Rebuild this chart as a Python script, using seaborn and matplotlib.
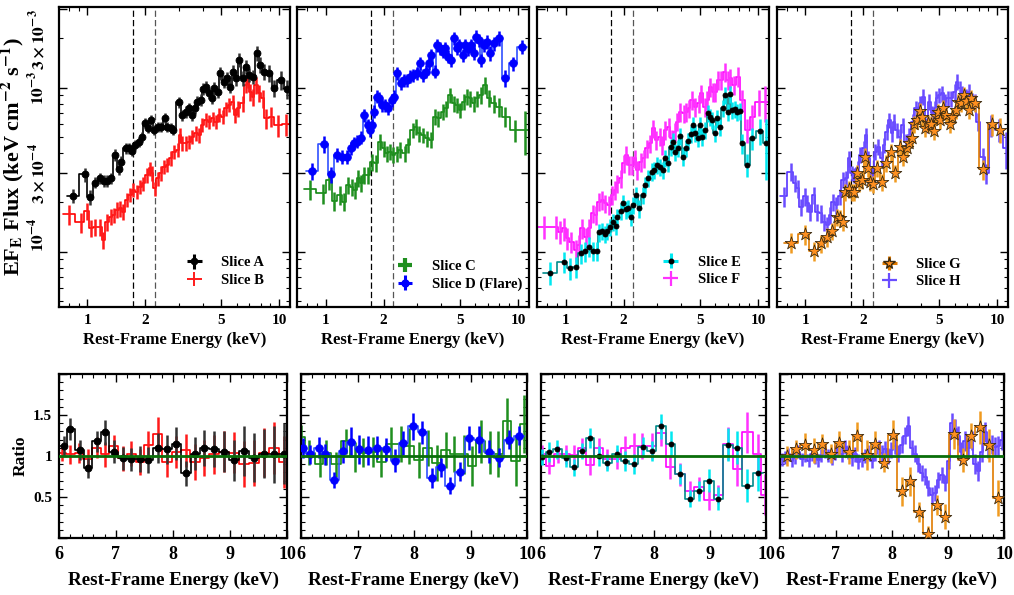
import numpy as np
import matplotlib
matplotlib.use("Agg")
import matplotlib.pyplot as plt
import seaborn as sns
from matplotlib.ticker import FixedLocator, FixedFormatter, NullFormatter, LogLocator, MultipleLocator

# ------------------------------------------------------------------ data
# Top panels: rest-frame energy (keV), EF_E flux (1e-4 keV cm^-2 s^-1), fractional 1-sigma error
energy_a = [0.84, 0.97, 1.03, 1.10, 1.16, 1.22, 1.27, 1.32, 1.385, 1.46,
            1.50, 1.58, 1.65, 1.71, 1.78, 1.86, 1.93, 1.99, 2.08, 2.15,
            2.23, 2.32, 2.41, 2.53, 2.61, 2.72, 2.81, 3.01, 3.13, 3.26,
            3.39, 3.49, 3.63, 3.75, 3.90, 4.03, 4.15, 4.32, 4.44, 4.59,
            4.77, 4.93, 5.13, 5.34, 5.57, 5.72, 5.96, 6.20, 6.46, 6.72,
            6.99, 7.28, 7.67, 7.99, 8.38, 8.90, 9.38, 10.24, 11.01]
flux_a = [2.19, 2.96, 2.15, 2.64, 2.80, 2.71, 2.71, 2.80, 3.89, 3.18,
          3.54, 4.27, 4.27, 4.13, 4.47, 4.69, 5.03, 6.06, 5.65, 6.35,
          5.52, 5.78, 5.78, 6.50, 5.78, 5.65, 5.52, 8.14, 6.81, 7.14,
          7.48, 6.81, 7.48, 8.21, 8.41, 9.81, 10.14, 9.23, 8.61, 9.91,
          9.45, 12.23, 10.88, 11.40, 10.14, 12.52, 11.40, 14.75, 11.40, 13.43,
          11.95, 11.67, 16.19, 13.75, 12.52, 12.23, 9.91, 11.14, 9.81]
err_a = [0.10, 0.10, 0.10, 0.08, 0.08, 0.08, 0.08, 0.08, 0.08, 0.08,
         0.08, 0.08, 0.08, 0.07, 0.07, 0.07, 0.07, 0.07, 0.07, 0.07,
         0.07, 0.07, 0.07, 0.07, 0.07, 0.07, 0.07, 0.08, 0.08, 0.08,
         0.08, 0.08, 0.08, 0.08, 0.08, 0.08, 0.08, 0.08, 0.08, 0.09,
         0.09, 0.09, 0.09, 0.09, 0.09, 0.09, 0.10, 0.10, 0.10, 0.10,
         0.10, 0.10, 0.10, 0.11, 0.11, 0.12, 0.12, 0.13, 0.13]

energy_b = [0.80, 0.93, 1.00, 1.04, 1.10, 1.16, 1.21, 1.27, 1.32, 1.37,
            1.43, 1.48, 1.54, 1.60, 1.67, 1.73, 1.81, 1.88, 1.96, 2.05,
            2.12, 2.18, 2.24, 2.32, 2.41, 2.51, 2.61, 2.72, 2.83, 2.95,
            3.04, 3.13, 3.26, 3.39, 3.53, 3.68, 3.83, 3.98, 4.15, 4.32,
            4.50, 4.68, 4.87, 5.07, 5.28, 5.50, 5.72, 5.89, 6.12, 6.46,
            6.72, 6.86, 7.08, 7.28, 7.58, 7.89, 8.21, 8.55, 9.08, 9.84,
            10.88]
flux_b = [1.69, 1.52, 1.77, 1.39, 1.42, 1.42, 1.18, 1.52, 1.63, 1.67,
          1.80, 1.84, 1.75, 2.07, 2.22, 2.38, 2.32, 2.49, 2.61, 2.93,
          3.22, 3.01, 2.43, 2.80, 3.01, 3.30, 3.38, 3.71, 4.07, 4.17,
          5.14, 4.58, 4.58, 4.69, 5.03, 5.27, 5.14, 5.92, 6.35, 6.21,
          6.50, 6.21, 6.81, 6.65, 7.48, 7.84, 8.21, 6.81, 7.48, 8.02,
          10.38, 11.14, 9.45, 8.81, 10.38, 9.23, 8.61, 6.50, 6.65, 5.92,
          5.97]
err_b = [0.14, 0.14, 0.12, 0.12, 0.12, 0.12, 0.12, 0.12, 0.11, 0.11,
         0.11, 0.11, 0.11, 0.10, 0.10, 0.10, 0.10, 0.10, 0.10, 0.10,
         0.10, 0.10, 0.10, 0.10, 0.10, 0.10, 0.10, 0.10, 0.10, 0.10,
         0.10, 0.10, 0.10, 0.10, 0.10, 0.10, 0.10, 0.10, 0.10, 0.10,
         0.10, 0.10, 0.10, 0.10, 0.10, 0.10, 0.10, 0.11, 0.11, 0.11,
         0.11, 0.11, 0.12, 0.12, 0.12, 0.12, 0.13, 0.14, 0.14, 0.15,
         0.15]

energy_c = [0.83, 0.965, 1.04, 1.11, 1.19, 1.24, 1.30, 1.37, 1.42, 1.48,
            1.53, 1.59, 1.67, 1.74, 1.82, 1.92, 2.00, 2.08, 2.16, 2.25,
            2.34, 2.44, 2.57, 2.67, 2.83, 2.94, 3.06, 3.19, 3.36, 3.54,
            3.68, 3.86, 4.05, 4.22, 4.44, 4.62, 4.81, 5.01, 5.21, 5.43,
            5.65, 5.88, 6.12, 6.44, 6.76, 7.04, 7.47, 7.93, 8.52, 9.69,
            10.83]
flux_c = [2.40, 2.27, 2.74, 2.04, 2.22, 2.02, 2.55, 2.49, 2.38, 2.80,
          2.61, 2.93, 2.93, 3.54, 3.46, 4.69, 4.27, 3.98, 4.07, 3.89,
          3.98, 4.17, 3.98, 4.47, 5.52, 5.78, 5.27, 5.14, 4.91, 4.80,
          6.65, 6.50, 7.14, 7.48, 9.02, 8.02, 7.84, 7.31, 8.21, 8.81,
          8.61, 8.02, 8.61, 9.02, 10.38, 8.61, 8.02, 7.66, 6.65, 5.52,
          5.52]
err_c = [0.14, 0.14, 0.13, 0.13, 0.13, 0.13, 0.12, 0.12, 0.12, 0.12,
         0.12, 0.12, 0.12, 0.12, 0.12, 0.11, 0.11, 0.11, 0.11, 0.11,
         0.11, 0.11, 0.11, 0.11, 0.11, 0.11, 0.11, 0.11, 0.11, 0.11,
         0.11, 0.11, 0.11, 0.11, 0.11, 0.11, 0.11, 0.11, 0.11, 0.11,
         0.11, 0.11, 0.11, 0.12, 0.12, 0.12, 0.13, 0.13, 0.14, 0.15,
         0.30]

energy_d = [0.85, 0.98, 1.07, 1.15, 1.21, 1.29, 1.35, 1.41, 1.46, 1.53,
            1.59, 1.66, 1.70, 1.74, 1.79, 1.84, 1.90, 1.96, 2.04, 2.12,
            2.21, 2.28, 2.36, 2.45, 2.54, 2.64, 2.75, 2.86, 2.98, 3.08,
            3.20, 3.33, 3.43, 3.54, 3.68, 3.79, 3.94, 4.05, 4.18, 4.35,
            4.50, 4.62, 4.81, 4.95, 5.15, 5.32, 5.49, 5.72, 5.88, 6.04,
            6.24, 6.44, 6.63, 6.90, 7.18, 7.47, 7.93, 8.52, 9.38, 10.49]
flux_d = [3.10, 4.51, 2.96, 3.89, 3.80, 3.80, 4.27, 4.58, 4.69, 4.96,
          6.81, 5.92, 5.52, 5.92, 7.14, 8.81, 8.61, 7.84, 7.84, 7.48,
          8.41, 8.81, 12.23, 10.63, 11.14, 11.14, 11.67, 11.95, 12.23, 14.06,
          11.95, 12.52, 14.06, 15.83, 12.52, 18.2, 17.4, 16.6, 17.4, 15.45,
          14.75, 20.0, 17.4, 18.2, 15.83, 18.2, 17.1, 18.2, 16.19, 20.47,
          19.53, 14.75, 18.2, 19.1, 16.19, 18.6, 20.0, 11.4, 14.06, 17.8]
err_d = [0.12, 0.12, 0.11, 0.10, 0.10, 0.10, 0.09, 0.09, 0.09, 0.09,
         0.09, 0.09, 0.09, 0.09, 0.09, 0.09, 0.09, 0.09, 0.09, 0.09,
         0.09, 0.09, 0.09, 0.09, 0.09, 0.09, 0.09, 0.09, 0.09, 0.09,
         0.09, 0.09, 0.09, 0.09, 0.09, 0.09, 0.09, 0.09, 0.09, 0.09,
         0.09, 0.09, 0.09, 0.09, 0.09, 0.09, 0.09, 0.09, 0.09, 0.09,
         0.09, 0.09, 0.09, 0.10, 0.10, 0.10, 0.10, 0.12, 0.10, 0.10]

energy_e = [0.83, 0.98, 1.05, 1.13, 1.20, 1.26, 1.32, 1.39, 1.45, 1.49,
            1.54, 1.60, 1.65, 1.71, 1.76, 1.82, 1.86, 1.93, 1.99, 2.05,
            2.12, 2.18, 2.25, 2.33, 2.42, 2.53, 2.60, 2.69, 2.80, 2.89,
            2.98, 3.08, 3.20, 3.30, 3.41, 3.51, 3.61, 3.72, 3.85, 3.95,
            4.06, 4.20, 4.33, 4.46, 4.58, 4.73, 4.88, 5.02, 5.12, 5.33,
            5.48, 5.66, 5.77, 5.96, 6.13, 6.32, 6.56, 6.77, 6.96, 7.13,
            7.33, 7.57, 7.78, 8.03, 8.26, 8.77, 9.31, 10.28, 11.0]
flux_e = [0.745, 0.869, 0.791, 0.81, 0.977, 1.009, 1.073, 1.009, 1.009, 1.312,
          1.337, 1.282, 1.343, 1.42, 1.524, 1.434, 1.634, 1.77, 1.972, 1.81,
          1.853, 1.634, 1.926, 2.22, 1.835, 2.22, 2.55, 2.80, 3.08, 3.15,
          3.38, 3.30, 3.15, 3.71, 3.46, 4.33, 4.69, 4.07, 4.27, 5.05,
          3.80, 4.30, 4.73, 5.19, 5.92, 5.27, 4.91, 5.92, 5.03, 5.52,
          6.97, 6.65, 6.35, 5.27, 6.50, 5.78, 7.55, 9.02, 7.14, 9.10,
          7.31, 7.41, 7.14, 7.21, 4.58, 3.38, 4.91, 5.45, 4.58]
err_e = [0.16, 0.15, 0.15, 0.15, 0.14, 0.14, 0.14, 0.13, 0.13, 0.13,
         0.12, 0.12, 0.12, 0.12, 0.12, 0.12, 0.12, 0.12, 0.12, 0.12,
         0.12, 0.12, 0.12, 0.12, 0.12, 0.12, 0.12, 0.12, 0.12, 0.12,
         0.12, 0.12, 0.12, 0.12, 0.12, 0.12, 0.12, 0.12, 0.12, 0.12,
         0.12, 0.12, 0.12, 0.12, 0.12, 0.12, 0.12, 0.12, 0.12, 0.12,
         0.12, 0.12, 0.12, 0.12, 0.12, 0.12, 0.12, 0.12, 0.12, 0.12,
         0.12, 0.12, 0.12, 0.12, 0.14, 0.16, 0.15, 0.18, 0.40]

energy_f = [0.77, 0.89, 0.94, 0.98, 1.02, 1.07, 1.13, 1.17, 1.22, 1.27,
            1.33, 1.39, 1.43, 1.49, 1.55, 1.61, 1.68, 1.75, 1.80, 1.86,
            1.93, 2.01, 2.07, 2.13, 2.22, 2.29, 2.36, 2.45, 2.55, 2.65,
            2.76, 2.84, 2.96, 3.08, 3.18, 3.30, 3.44, 3.55, 3.69, 3.80,
            3.95, 4.11, 4.23, 4.37, 4.54, 4.73, 4.92, 5.08, 5.29, 5.44,
            5.66, 5.82, 6.01, 6.20, 6.45, 6.71, 6.99, 7.18, 7.48, 7.87,
            8.26, 8.77, 9.31, 10.08, 10.92]
flux_f = [1.42, 1.42, 1.32, 1.39, 1.21, 1.15, 1.02, 1.10, 1.39, 1.23,
          1.39, 1.71, 1.67, 2.02, 2.07, 1.97, 1.93, 2.22, 2.38, 2.61,
          2.80, 3.46, 3.89, 3.38, 3.38, 3.71, 3.15, 3.54, 3.71, 4.27,
          4.58, 5.65, 4.80, 5.03, 4.47, 5.52, 5.78, 4.91, 5.40, 6.21,
          7.14, 6.97, 7.14, 7.48, 8.41, 7.66, 8.02, 9.23, 7.66, 8.41,
          10.14, 9.45, 9.45, 11.14, 11.14, 12.52, 11.14, 11.50, 10.38, 11.67,
          8.41, 5.52, 6.65, 8.21, 8.21]
err_f = [0.16, 0.16, 0.16, 0.16, 0.15, 0.15, 0.15, 0.15, 0.14, 0.14,
         0.14, 0.13, 0.13, 0.13, 0.13, 0.13, 0.13, 0.13, 0.13, 0.13,
         0.13, 0.13, 0.13, 0.13, 0.13, 0.13, 0.13, 0.13, 0.13, 0.13,
         0.13, 0.13, 0.13, 0.13, 0.13, 0.13, 0.13, 0.13, 0.13, 0.13,
         0.13, 0.13, 0.13, 0.13, 0.13, 0.13, 0.13, 0.13, 0.13, 0.13,
         0.13, 0.13, 0.13, 0.13, 0.13, 0.13, 0.13, 0.13, 0.13, 0.14,
         0.15, 0.17, 0.17, 0.18, 0.25]

energy_g = [0.84, 0.99, 1.105, 1.21, 1.30, 1.38, 1.46, 1.51, 1.56, 1.61,
            1.68, 1.75, 1.80, 1.86, 1.91, 1.98, 2.05, 2.11, 2.18, 2.26,
            2.37, 2.52, 2.63, 2.78, 2.94, 3.11, 3.24, 3.37, 3.48, 3.59,
            3.68, 3.80, 3.98, 4.05, 4.20, 4.37, 4.54, 4.67, 4.79, 4.92,
            5.06, 5.22, 5.44, 5.66, 5.84, 6.08, 6.25, 6.45, 6.69, 6.91,
            7.10, 7.33, 7.63, 8.43, 9.42, 10.37]
flux_g = [1.134, 1.282, 1.009, 1.124, 1.234, 1.337, 1.62, 1.597, 1.524, 2.32,
          2.40, 2.30, 2.32, 3.01, 2.61, 2.74, 3.80, 3.22, 2.67, 2.58,
          3.22, 2.67, 3.46, 4.07, 3.03, 4.37, 3.80, 4.30, 4.58, 4.91,
          5.97, 6.35, 7.21, 6.65, 5.65, 6.06, 5.97, 5.45, 6.71, 7.14,
          6.35, 7.48, 6.81, 5.97, 6.65, 7.31, 8.14, 8.10, 9.02, 8.29,
          7.31, 8.61, 8.02, 3.19, 5.97, 5.55]
err_g = [0.14, 0.14, 0.13, 0.13, 0.13, 0.12, 0.12, 0.12, 0.12, 0.12,
         0.12, 0.12, 0.12, 0.12, 0.12, 0.12, 0.12, 0.12, 0.12, 0.12,
         0.12, 0.12, 0.12, 0.12, 0.12, 0.12, 0.12, 0.12, 0.12, 0.12,
         0.12, 0.12, 0.12, 0.12, 0.12, 0.12, 0.12, 0.12, 0.12, 0.12,
         0.12, 0.12, 0.12, 0.12, 0.12, 0.12, 0.12, 0.12, 0.12, 0.12,
         0.12, 0.12, 0.12, 0.14, 0.15, 0.17]

energy_h = [0.77, 0.84, 0.88, 0.91, 0.95, 0.99, 1.02, 1.06, 1.105, 1.15,
            1.20, 1.245, 1.30, 1.34, 1.39, 1.45, 1.51, 1.57, 1.63, 1.685,
            1.75, 1.80, 1.87, 1.93, 2.01, 2.07, 2.13, 2.22, 2.31, 2.40,
            2.50, 2.57, 2.65, 2.74, 2.82, 2.90, 2.99, 3.11, 3.21, 3.34,
            3.48, 3.62, 3.77, 3.88, 3.98, 4.11, 4.28, 4.42, 4.60, 4.73,
            4.82, 4.98, 5.18, 5.33, 5.55, 5.77, 6.01, 6.20, 6.37, 6.58,
            6.85, 7.13, 7.36, 7.63, 7.94, 8.43, 8.77, 9.31, 10.28, 11.13]
flux_h = [2.17, 3.08, 2.61, 2.43, 1.88, 2.17, 1.97, 1.75, 2.22, 1.75,
          1.71, 1.52, 1.455, 1.67, 2.02, 1.93, 2.17, 2.74, 2.80, 3.71,
          3.01, 2.93, 3.22, 3.89, 4.27, 5.14, 3.71, 2.93, 4.07, 4.37,
          3.71, 4.47, 5.40, 6.35, 5.27, 6.21, 5.52, 5.03, 5.92, 4.69,
          5.14, 6.21, 7.48, 6.97, 8.02, 8.81, 5.92, 8.21, 6.97, 7.48,
          8.61, 9.02, 9.23, 8.21, 8.61, 8.61, 9.45, 10.88, 9.91, 9.23,
          8.81, 9.45, 8.41, 8.14, 6.21, 3.80, 3.01, 5.92, 5.52, 4.27]
err_h = [0.14, 0.12, 0.12, 0.12, 0.12, 0.12, 0.12, 0.12, 0.12, 0.12,
         0.12, 0.12, 0.12, 0.12, 0.12, 0.12, 0.11, 0.11, 0.11, 0.11,
         0.11, 0.11, 0.11, 0.11, 0.11, 0.11, 0.11, 0.11, 0.11, 0.11,
         0.11, 0.11, 0.11, 0.11, 0.11, 0.11, 0.11, 0.11, 0.11, 0.11,
         0.11, 0.11, 0.11, 0.11, 0.11, 0.11, 0.11, 0.11, 0.11, 0.11,
         0.11, 0.11, 0.11, 0.11, 0.11, 0.11, 0.11, 0.11, 0.11, 0.11,
         0.11, 0.11, 0.11, 0.12, 0.12, 0.13, 0.14, 0.15, 0.16, 0.25]

# Bottom panels: data/model ratio in the 6-10 keV band
r_energy_a = [6.08, 6.20, 6.36, 6.51, 6.66, 6.81, 6.96, 7.12, 7.27, 7.42, 7.57, 7.73, 7.89,
              8.06, 8.23, 8.39, 8.55, 8.72, 8.89, 9.07, 9.25, 9.42, 9.59, 9.77, 9.94]
ratio_a = [1.12, 1.33, 1.07, 0.85, 1.18, 1.29, 1.05, 0.97, 0.96, 0.96, 0.95, 1.10, 1.08,
           1.15, 0.79, 1.03, 1.10, 1.08, 1.05, 0.95, 1.06, 0.98, 1.03, 1.02, 1.03]
rerr_a = [0.12, 0.13, 0.12, 0.12, 0.13, 0.15, 0.14, 0.14, 0.14, 0.16, 0.16, 0.18, 0.18,
          0.20, 0.15, 0.20, 0.22, 0.22, 0.25, 0.25, 0.30, 0.30, 0.30, 0.35, 0.37]

r_energy_b = [6.05, 6.20, 6.35, 6.50, 6.66, 6.81, 6.96, 7.12, 7.27, 7.42, 7.57, 7.73, 7.89,
              8.06, 8.22, 8.39, 8.55, 8.72, 8.89, 9.07, 9.25, 9.42, 9.59, 9.77, 9.94]
ratio_b = [1.04, 1.02, 1.04, 0.96, 1.10, 1.02, 1.12, 0.97, 1.03, 0.93, 1.14, 1.27, 0.93,
           1.05, 1.07, 0.93, 0.98, 1.02, 1.05, 1.04, 0.90, 0.92, 1.04, 1.10, 0.93]
rerr_b = [0.10, 0.12, 0.12, 0.12, 0.13, 0.15, 0.14, 0.15, 0.15, 0.16, 0.17, 0.20, 0.18,
          0.20, 0.20, 0.22, 0.22, 0.24, 0.25, 0.25, 0.28, 0.28, 0.30, 0.32, 0.32]

r_energy_c = [6.00, 6.15, 6.33, 6.45, 6.62, 6.79, 6.95, 7.10, 7.28, 7.42, 7.60, 7.77, 7.92,
              8.08, 8.25, 8.40, 8.56, 8.71, 8.88, 9.03, 9.18, 9.34, 9.49, 9.65, 9.80, 9.95]
ratio_c = [1.23, 1.04, 0.90, 1.04, 0.90, 1.18, 0.99, 1.04, 1.05, 0.93, 1.15, 1.15, 1.12,
           0.95, 1.10, 0.91, 1.07, 1.03, 1.02, 0.88, 1.18, 1.04, 1.02, 1.43, 0.94, 1.39]
rerr_c = [0.15, 0.15, 0.15, 0.15, 0.15, 0.15, 0.18, 0.18, 0.18, 0.18, 0.20, 0.22, 0.22,
          0.22, 0.22, 0.22, 0.22, 0.22, 0.24, 0.24, 0.26, 0.26, 0.28, 0.28, 0.30, 0.35]

r_energy_d = [6.03, 6.16, 6.31, 6.43, 6.59, 6.74, 6.89, 7.03, 7.19, 7.35, 7.51, 7.67, 7.81,
              7.98, 8.15, 8.31, 8.47, 8.64, 8.81, 8.98, 9.15, 9.32, 9.50, 9.68, 9.86]
ratio_d = [1.10, 1.02, 1.10, 1.02, 0.71, 1.06, 1.17, 1.08, 1.07, 1.10, 1.08, 0.94, 1.16,
           1.36, 1.29, 0.73, 0.86, 0.64, 0.81, 1.22, 1.20, 1.05, 0.98, 1.20, 1.25]
rerr_d = [0.12, 0.12, 0.13, 0.13, 0.10, 0.14, 0.18, 0.18, 0.18, 0.14, 0.14, 0.14, 0.15,
          0.16, 0.14, 0.12, 0.12, 0.10, 0.12, 0.15, 0.16, 0.14, 0.12, 0.12, 0.12]

r_energy_e = [6.01, 6.15, 6.29, 6.44, 6.58, 6.72, 6.87, 7.03, 7.18, 7.35, 7.49, 7.65, 7.81,
              7.97, 8.13, 8.31, 8.47, 8.64, 8.80, 8.99, 9.15, 9.32, 9.49, 9.67, 9.85]
ratio_e = [0.99, 1.05, 1.08, 0.97, 0.86, 1.06, 1.22, 1.00, 0.92, 1.03, 0.94, 0.90, 1.11,
           1.06, 1.36, 1.15, 0.78, 0.48, 0.57, 0.70, 0.48, 1.14, 1.10, 0.64, 0.79]
rerr_e = [0.10, 0.12, 0.12, 0.10, 0.10, 0.10, 0.12, 0.12, 0.10, 0.10, 0.12, 0.12, 0.12,
          0.12, 0.15, 0.15, 0.12, 0.10, 0.12, 0.14, 0.14, 0.20, 0.20, 0.20, 0.22]

r_energy_f = [6.02, 6.15, 6.30, 6.44, 6.58, 6.72, 6.87, 7.03, 7.18, 7.35, 7.50, 7.65, 7.80,
              7.97, 8.13, 8.30, 8.47, 8.64, 8.80, 8.99, 9.15, 9.32, 9.49, 9.67, 9.85, 9.98]
ratio_f = [1.02, 0.88, 1.02, 1.02, 1.01, 1.10, 0.89, 1.10, 0.96, 0.96, 1.10, 1.12, 1.12,
           1.12, 1.28, 0.86, 0.78, 0.57, 0.62, 0.46, 0.53, 1.15, 0.84, 1.29, 1.02, 0.53]
rerr_f = [0.12, 0.10, 0.10, 0.12, 0.12, 0.12, 0.12, 0.12, 0.12, 0.12, 0.14, 0.16, 0.16,
          0.16, 0.16, 0.14, 0.14, 0.12, 0.12, 0.12, 0.12, 0.20, 0.20, 0.25, 0.25, 0.25]

r_energy_g = [6.13, 6.29, 6.44, 6.60, 6.75, 6.91, 7.06, 7.23, 7.38, 7.55, 7.70, 7.86, 8.01,
              8.17, 8.32, 8.48, 8.64, 8.80, 8.95, 9.10, 9.26, 9.41, 9.57, 9.73, 9.89]
ratio_g = [1.00, 1.08, 1.13, 1.07, 1.15, 1.03, 1.16, 1.05, 1.24, 1.01, 1.15, 0.92, 1.26,
           0.57, 0.69, 0.32, 0.05, 0.40, 0.26, 1.27, 0.95, 1.25, 1.35, 1.13, 0.49]
rerr_g = [0.12, 0.12, 0.15, 0.15, 0.12, 0.12, 0.15, 0.15, 0.18, 0.18, 0.15, 0.12, 0.18,
          0.18, 0.18, 0.12, 0.10, 0.12, 0.15, 0.18, 0.15, 0.15, 0.20, 0.20, 0.22]

r_energy_h = [6.03, 6.09, 6.15, 6.21, 6.27, 6.33, 6.39, 6.45, 6.51, 6.57,
              6.625, 6.685, 6.74, 6.80, 6.86, 6.92, 6.98, 7.04, 7.10, 7.16,
              7.22, 7.28, 7.34, 7.40, 7.46, 7.52, 7.58, 7.64, 7.70, 7.76,
              7.82, 7.875, 7.93, 7.99, 8.05, 8.11, 8.17, 8.23, 8.29, 8.35,
              8.41, 8.47, 8.53, 8.59, 8.65, 8.71, 8.77, 8.83, 8.89, 8.95,
              9.01, 9.07, 9.125, 9.18, 9.24, 9.30, 9.36, 9.42, 9.48, 9.54,
              9.60, 9.66, 9.72, 9.78, 9.84, 9.90, 9.96]
ratio_h = [0.96, 0.98, 1.02, 0.94, 0.98, 1.05, 0.96, 1.01, 0.94, 1.02,
           0.98, 0.95, 1.01, 1.06, 1.01, 0.97, 1.04, 1.08, 1.02, 1.11,
           1.05, 0.97, 1.02, 0.93, 0.96, 1.00, 1.04, 0.94, 1.03, 1.10,
           1.04, 1.08, 1.00, 1.07, 1.12, 1.03, 1.14, 1.25, 1.37, 1.10,
           1.03, 0.90, 0.79, 0.75, 0.61, 0.52, 0.55, 0.71, 0.77, 0.67,
           0.94, 1.40, 1.33, 1.25, 1.05, 1.18, 1.10, 1.19, 0.90, 0.82,
           1.05, 1.29, 1.10, 1.14, 1.11, 1.12, 1.19]
rerr_h = [0.08, 0.08, 0.08, 0.08, 0.08, 0.08, 0.08, 0.08, 0.08, 0.08,
          0.08, 0.08, 0.08, 0.08, 0.08, 0.08, 0.09, 0.09, 0.09, 0.09,
          0.09, 0.09, 0.09, 0.09, 0.09, 0.09, 0.09, 0.09, 0.09, 0.09,
          0.10, 0.10, 0.10, 0.10, 0.10, 0.10, 0.10, 0.10, 0.12, 0.10,
          0.10, 0.10, 0.10, 0.10, 0.10, 0.10, 0.10, 0.10, 0.10, 0.10,
          0.10, 0.12, 0.12, 0.12, 0.12, 0.12, 0.12, 0.12, 0.12, 0.12,
          0.12, 0.12, 0.12, 0.12, 0.12, 0.12, 0.12]

slice_labels = ["Slice A", "Slice B", "Slice C", "Slice D (Flare)",
                "Slice E", "Slice F", "Slice G", "Slice H"]
feature_lines = [1.72, 2.24]          # keV, dashed markers in the top panels
flux_scale = 1e-4

# ------------------------------------------------------------------ style
sns.set_theme(style="ticks")
plt.rcParams["font.family"] = ["Liberation Serif", "DejaVu Serif"]
plt.rcParams["font.weight"] = "bold"
plt.rcParams["axes.labelweight"] = "bold"
plt.rcParams["mathtext.fontset"] = "stix"
plt.rcParams["axes.linewidth"] = 1.6
plt.rcParams["axes.edgecolor"] = "black"
plt.rcParams["xtick.color"] = "black"
plt.rcParams["ytick.color"] = "black"
plt.rcParams["text.color"] = "black"
plt.rcParams["axes.labelcolor"] = "black"

# per-series style: (line colour, errorbar colour, marker, marker size, marker face, marker edge)
styles = {
    "A": ("black", "#333333", "o", 5.0, "black", "black"),
    "B": ("#ff0000", "#ff1a1a", None, 0, None, None),
    "C": ("#118811", "#1f8f1f", None, 0, None, None),
    "D": ("#3050ff", "#0000ff", "o", 5.5, "#0000ff", "#0000ff"),
    "E": ("#008b8b", "#00e8f0", "o", 3.6, "black", "black"),
    "F": ("#ff00ff", "#ff33ff", None, 0, None, None),
    "G": ("#e07b00", "#f09a20", "*", 9.5, "#ff9020", "#3a2a10"),
    "H": ("#5533ff", "#6a4dff", None, 0, None, None),
}
legend_lw = {"A": 2.2, "B": 1.4, "C": 3.0, "D": 2.2, "E": 2.2, "F": 1.6, "G": 2.2, "H": 1.6}

W, H = 1014, 595
fig = plt.figure(figsize=(W / 100, H / 100), dpi=100)

top_px = [(59, 290), (297, 529), (537, 769), (777, 1008)]
bot_px = [(59, 287), (301, 527), (541, 766), (780, 1004)]
top_axes = [fig.add_axes([l / W, (H - 307) / H, (r - l) / W, 300 / H]) for l, r in top_px]
bot_axes = [fig.add_axes([l / W, (H - 538) / H, (r - l) / W, 164 / H]) for l, r in bot_px]


def bin_edges(x, log):
    x = np.asarray(x, float)
    if log:
        mids = np.sqrt(x[:-1] * x[1:])
        left = np.r_[x[0] ** 2 / mids[0], mids]
        right = np.r_[mids, x[-1] ** 2 / mids[-1]]
    else:
        mids = 0.5 * (x[:-1] + x[1:])
        left = np.r_[2 * x[0] - mids[0], mids]
        right = np.r_[mids, 2 * x[-1] - mids[-1]]
    return left, right


def draw_series(ax, x, y, frac_or_abs, key, log, scale=1.0, relative=True, z=2, lw=1.2, elw=1.8):
    lc, ec, mk, ms, mfc, mec = styles[key]
    x = np.asarray(x, float)
    y = np.asarray(y, float) * scale
    e = np.asarray(frac_or_abs, float)
    err = e * y if relative else e
    left, right = bin_edges(x, log)
    xs = np.column_stack([left, right]).ravel()
    ys = np.repeat(y, 2)
    sns.lineplot(x=xs, y=ys, estimator=None, sort=False, color=lc, linewidth=lw,
                 ax=ax, zorder=z, legend=False)
    ax.errorbar(x, y, yerr=err, fmt="none", ecolor=ec, elinewidth=elw, capsize=0, zorder=z + 0.1)
    if mk is not None:
        sns.scatterplot(x=x, y=y, marker=mk, s=ms ** 2, color=mfc, edgecolor=mec,
                        linewidth=0.6, ax=ax, zorder=z + 0.2, legend=False)


def legend_handle(ax, key, label):
    lc, ec, mk, ms, mfc, mec = styles[key]
    fmt = mk if mk is not None else "none"
    h = ax.errorbar([np.nan], [np.nan], xerr=[1.0], yerr=[1.0], fmt=fmt,
                    color=ec if mk is None else mfc,
                    ecolor=ec if key not in ("A", "G") else lc, elinewidth=legend_lw[key],
                    markersize=ms * 0.9, markerfacecolor=mfc, markeredgecolor=mec, label=label)
    return h


top_series = [
    [(energy_b, flux_b, err_b, "B"), (energy_a, flux_a, err_a, "A")],
    [(energy_c, flux_c, err_c, "C"), (energy_d, flux_d, err_d, "D")],
    [(energy_f, flux_f, err_f, "F"), (energy_e, flux_e, err_e, "E")],
    [(energy_h, flux_h, err_h, "H"), (energy_g, flux_g, err_g, "G")],
]
legend_keys = [("A", "B"), ("C", "D"), ("E", "F"), ("G", "H")]
legend_anchor = [(0.52, 0.118), (0.40, 0.105), (0.51, 0.12), (0.42, 0.113)]
label_of = dict(zip("ABCDEFGH", slice_labels))

for i, ax in enumerate(top_axes):
    ax.set_xscale("log")
    ax.set_yscale("log")
    for j, (x, y, e, k) in enumerate(top_series[i]):
        draw_series(ax, x, y, e, k, log=True, scale=flux_scale, z=2 + j)
    for k, xv in enumerate(feature_lines):
        ax.axvline(xv, color="black" if k == 0 else "#555555", ls=(0, (5, 2.5)), lw=0.9, zorder=1)
    ax.set_xlim(0.71, 11.4)
    ax.set_ylim(4.6e-5, 3.1e-3)
    ax.xaxis.set_major_locator(FixedLocator([1, 2, 5, 10]))
    ax.xaxis.set_major_formatter(FixedFormatter(["1", "2", "5", "10"]))
    ax.xaxis.set_minor_locator(LogLocator(base=10, subs=np.arange(2, 10)))
    ax.xaxis.set_minor_formatter(NullFormatter())
    ax.yaxis.set_major_locator(FixedLocator([1e-4, 3e-4, 1e-3, 3e-3]))
    ax.yaxis.set_minor_locator(LogLocator(base=10, subs=[2, 4, 5, 6, 7, 8, 9]))
    ax.yaxis.set_minor_formatter(NullFormatter())
    if i == 0:
        ax.yaxis.set_major_formatter(FixedFormatter(
            [r"$10^{-4}$", r"$3\times10^{-4}$", r"$10^{-3}$", r"$3\times10^{-3}$"]))
        for t in ax.get_yticklabels():
            t.set_rotation(90)
            t.set_va("center")
        ax.set_ylabel(r"EF$_\mathbf{E}$ Flux (keV cm$^\mathbf{-2}$ s$^\mathbf{-1}$)",
                      fontsize=16, fontweight="bold", labelpad=1)
    else:
        ax.yaxis.set_major_formatter(NullFormatter())
    ax.tick_params(axis="both", which="both", direction="in", top=True, right=True)
    ax.tick_params(axis="both", which="major", length=6, width=1.0)
    ax.tick_params(axis="both", which="minor", length=3, width=0.8)
    ax.tick_params(axis="x", which="major", labelsize=11, pad=5)
    ax.tick_params(axis="y", which="major", labelsize=12.5, pad=8)
    for t in ax.get_xticklabels():
        t.set_fontweight("bold")
    ax.set_xlabel("Rest-Frame Energy (keV)", fontsize=12, fontweight="bold", labelpad=4)
    hs = [legend_handle(ax, k, label_of[k]) for k in legend_keys[i]]
    ax.legend(handles=hs, loc="center left", bbox_to_anchor=legend_anchor[i], frameon=False,
              prop={"family": "Liberation Serif", "weight": "bold", "size": 10.5},
              handlelength=1.3, handletextpad=1.2, labelspacing=0.3, borderaxespad=0)

yl = top_axes[0].get_yticklabels()
yl[0].set_va("bottom")
yl[-1].set_va("top")

bot_series = [
    [(r_energy_b, ratio_b, rerr_b, "B"), (r_energy_a, ratio_a, rerr_a, "A")],
    [(r_energy_c, ratio_c, rerr_c, "C"), (r_energy_d, ratio_d, rerr_d, "D")],
    [(r_energy_f, ratio_f, rerr_f, "F"), (r_energy_e, ratio_e, rerr_e, "E")],
    [(r_energy_h, ratio_h, rerr_h, "H"), (r_energy_g, ratio_g, rerr_g, "G")],
]

for i, ax in enumerate(bot_axes):
    for j, (x, y, e, k) in enumerate(bot_series[i]):
        draw_series(ax, x, y, e, k, log=False, relative=False, z=2 + j)
    ax.axhline(1.0, color="#0a6e0a", lw=2.0, zorder=3.5)
    ax.set_xlim(6, 10)
    ax.set_ylim(0, 2)
    ax.xaxis.set_major_locator(FixedLocator([6, 7, 8, 9, 10]))
    ax.xaxis.set_major_formatter(FixedFormatter(["6", "7", "8", "9", "10"]))
    ax.xaxis.set_minor_locator(MultipleLocator(0.2))
    ax.yaxis.set_major_locator(FixedLocator([0, 0.5, 1.0, 1.5, 2.0]))
    ax.yaxis.set_minor_locator(MultipleLocator(0.1))
    if i == 0:
        ax.yaxis.set_major_formatter(FixedFormatter(["", "0.5", "1", "1.5", ""]))
        ax.set_ylabel("Ratio", fontsize=12.5, fontweight="bold", labelpad=3)
    else:
        ax.yaxis.set_major_formatter(NullFormatter())
    ax.tick_params(axis="both", which="both", direction="in", top=True, right=True)
    ax.tick_params(axis="both", which="major", length=6, width=1.0)
    ax.tick_params(axis="both", which="minor", length=3, width=0.8)
    ax.tick_params(axis="x", which="major", labelsize=13, pad=6)
    ax.tick_params(axis="y", which="major", labelsize=11, pad=5)
    for t in ax.get_xticklabels() + ax.get_yticklabels():
        t.set_fontweight("bold")
    ax.set_xlabel("Rest-Frame Energy (keV)", fontsize=13.8, fontweight="bold", labelpad=6)

fig.savefig("out.png", dpi=100)
